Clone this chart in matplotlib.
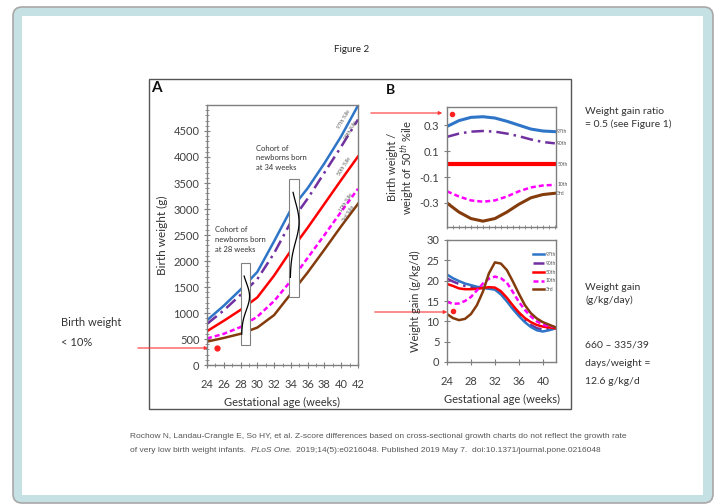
import numpy as np
import matplotlib
matplotlib.use("Agg")
import matplotlib.pyplot as plt
from matplotlib.patches import FancyBboxPatch, Rectangle
from matplotlib.ticker import MultipleLocator

plt.rcParams['font.family'] = ['Lato', 'DejaVu Sans']

# ---- data ----
# panel A: birth weight percentiles (g)
weeks_a = [24, 26, 28, 30, 32, 34, 36, 38, 40, 42]
bw_p97 = [860, 1140, 1450, 1790, 2380, 2990, 3400, 3880, 4400, 4990]
bw_p90 = [790, 1050, 1350, 1650, 2150, 2750, 3200, 3700, 4200, 4720]
bw_p50 = [650, 850, 1060, 1300, 1720, 2200, 2640, 3100, 3560, 4010]
bw_p10 = [510, 600, 730, 930, 1230, 1620, 2060, 2500, 2950, 3390]
bw_p3 = [450, 520, 600, 720, 960, 1370, 1780, 2220, 2670, 3100]

# cohorts drawn as boxes: box left/right, box bottom/top, mean, sd of weights
cohort_x = [(28.0, 29.1), (33.8, 35.0)]
cohort_y = [(385, 1960), (1300, 3570)]
cohort_mean = [1320, 2750]
cohort_sd = [260, 380]

# panel B top: ratio vs 50th percentile
weeks_b = [24, 26, 28, 30, 32, 34, 36, 38, 40, 42]
ratio_p97 = [0.29, 0.335, 0.36, 0.365, 0.355, 0.33, 0.30, 0.27, 0.255, 0.25]
ratio_p90 = [0.21, 0.235, 0.25, 0.255, 0.25, 0.235, 0.215, 0.19, 0.17, 0.16]
ratio_p50 = [0, 0, 0, 0, 0, 0, 0, 0, 0, 0]
ratio_p10 = [-0.21, -0.25, -0.28, -0.29, -0.28, -0.25, -0.21, -0.18, -0.165, -0.16]
ratio_p3 = [-0.30, -0.37, -0.42, -0.44, -0.42, -0.37, -0.31, -0.26, -0.235, -0.225]

# panel B bottom: weight gain (g/kg/d)
weeks_g = list(range(24, 43))
gain_p97 = [21.5, 20.6, 19.9, 19.3, 18.9, 18.5, 18.2, 18.0, 17.8, 16.6, 14.9,
            13.0, 11.3, 9.8, 8.6, 7.8, 7.5, 7.8, 8.2]
gain_p90 = [20.5, 19.8, 19.2, 18.7, 18.5, 18.3, 18.2, 18.2, 18.0, 17.0, 15.3,
            13.4, 11.7, 10.2, 9.1, 8.3, 8.0, 8.1, 8.3]
gain_p50 = [19.2, 18.7, 18.1, 17.9, 17.9, 18.0, 18.2, 18.4, 18.3, 17.4, 15.8,
            13.9, 12.2, 10.8, 9.8, 9.1, 8.7, 8.5, 8.3]
gain_p10 = [14.8, 14.3, 14.4, 15.0, 16.0, 17.6, 19.3, 20.5, 21.0, 20.6, 19.5,
            17.2, 14.8, 12.8, 11.2, 10.0, 9.2, 8.8, 8.6]
gain_p3 = [11.8, 10.8, 10.3, 10.6, 11.8, 14.0, 17.3, 21.8, 24.5, 24.2, 22.6,
           19.8, 16.8, 14.0, 12.0, 10.7, 9.8, 9.2, 8.6]

pct_labels = ['97th', '90th', '50th', '10th', '3rd']

# individual infant example
dot_a = (25.2, 330)
dot_b1 = (24.8, 0.385)
dot_b2 = (25.0, 12.5)

# ---- styles ----
colors = ['#2e75c8', '#7030a0', '#ff0000', '#ff00ff', '#843c0c']
styles = ['-', (0, (5, 2, 1, 2)), '-', (0, (2, 1.2)), '-']
tick_col = '#404040'
text_col = '#333333'
cite_col = '#555555'

W, H = 717, 504
fig = plt.figure(figsize=(W / 100, H / 100), dpi=100)


def px(l, t, r, b):
    return [l / W, 1 - b / H, (r - l) / W, (b - t) / H]


# background card
bg = fig.add_axes([0, 0, 1, 1], zorder=-1)
bg.set_xlim(0, W)
bg.set_ylim(H, 0)
bg.axis('off')
bg.add_patch(FancyBboxPatch((13, 7), 700, 496, boxstyle='round,pad=0,rounding_size=9',
                            fc='#c6e1e4', ec='#a8a8a8', lw=1.2))
bg.add_patch(Rectangle((22, 16), 681, 479, fc='white', ec='none'))
bg.add_patch(Rectangle((149, 79), 422, 330, fc='none', ec='#555555', lw=1))

bg.text(352, 50, 'Figure 2', ha='center', va='center', fontsize=7, color='#222222')
bg.text(151, 88, 'A', ha='left', va='center', fontsize=11, fontweight='bold', color='#111111')
bg.text(386, 90, 'B', ha='left', va='center', fontsize=10, fontweight='bold', color='#111111')

bg.text(61, 323, 'Birth weight', ha='left', va='center', fontsize=8, color=text_col)
bg.text(61, 343, '< 10%', ha='left', va='center', fontsize=8, color=text_col)
bg.text(585, 112, 'Weight gain ratio', ha='left', va='center', fontsize=7.5, color=text_col)
bg.text(585, 124, '= 0.5 (see Figure 1)', ha='left', va='center', fontsize=7.5, color=text_col)
bg.text(585, 287, 'Weight gain', ha='left', va='center', fontsize=7.5, color=text_col)
bg.text(585, 300, '(g/kg/day)', ha='left', va='center', fontsize=7.5, color=text_col)
bg.text(585, 345, '660 \u2013 335/39', ha='left', va='center', fontsize=7.5, color=text_col)
bg.text(585, 363, 'days/weight =', ha='left', va='center', fontsize=7.5, color=text_col)
bg.text(585, 382, '12.6 g/kg/d', ha='left', va='center', fontsize=7.5, color=text_col)

cite = dict(fontsize=6.0, color=cite_col, family='Liberation Sans', va='center')
bg.text(130, 437, 'Rochow N, Landau-Crangle E, So HY, et al. Z-score differences based on '
        'cross-sectional growth charts do not reflect the growth rate', ha='left', **cite)
t1 = bg.text(130, 450, 'of very low birth weight infants.  ', ha='left', **cite)
t2 = bg.annotate('PLoS One', xy=(1, 0.5), xycoords=t1, ha='left', style='italic', **cite)
bg.annotate('.  2019;14(5):e0216048. Published 2019 May 7.  doi:10.1371/journal.pone.0216048',
            xy=(1, 0.5), xycoords=t2, ha='left', **cite)

# red arrows to the example infant
arr = dict(arrowstyle='-|>', color='#ff3333', lw=0.8, mutation_scale=5)
bg.annotate('', xy=(211, 348), xytext=(135, 348), arrowprops=arr)
bg.annotate('', xy=(445, 113), xytext=(368, 113), arrowprops=arr)
bg.annotate('', xy=(450, 312), xytext=(372, 312), arrowprops=arr)


def frame(ax):
    ax.set_facecolor('none')
    for s in ax.spines.values():
        s.set_color('#7f7f7f')
        s.set_linewidth(1)
    ax.tick_params(colors='#7f7f7f', labelcolor=tick_col, labelsize=8, direction='inout',
                   length=4, width=0.8)
    ax.tick_params(which='minor', colors='#7f7f7f', direction='inout', length=2.5, width=0.6)
    ax.tick_params(axis='x', pad=8)


# ---- panel A ----
axA = fig.add_axes(px(207, 105, 358, 365))
frame(axA)
for vals, c, ls in zip([bw_p97, bw_p90, bw_p50, bw_p10, bw_p3], colors, styles):
    axA.plot(weeks_a, vals, color=c, ls=ls, lw=1.8, zorder=2)
for (x0, x1), (y0, y1), m, sd in zip(cohort_x, cohort_y, cohort_mean, cohort_sd):
    axA.add_patch(Rectangle((x0, y0), x1 - x0, y1 - y0, fc='white', ec='#808080',
                            lw=0.8, zorder=3))
    yy = np.linspace(m - 2.8 * sd, m + 1.5 * sd, 80)
    xx = x0 + 0.12 + (x1 - x0 - 0.15) * np.exp(-0.5 * ((yy - m) / sd) ** 2)
    axA.plot(xx, yy, color='black', lw=0.9, zorder=4)
axA.text(25.0, 2670, 'Cohort of\nnewborns born\nat 28 weeks', fontsize=5.5, color=text_col,
         va='top', ha='left', linespacing=1.45)
axA.text(29.9, 4240, 'Cohort of\nnewborns born\nat 34 weeks', fontsize=5.5, color=text_col,
         va='top', ha='left', linespacing=1.45)
for lab, (x, y), rot in zip(pct_labels,
                             [(40.3, 4720), (41.2, 4520), (40.4, 3820), (40.6, 3130), (40.9, 2910)],
                             [60, 60, 58, 58, 58]):
    axA.text(x, y, lab + ' %ile', fontsize=3.6, color='#555555', rotation=rot,
             ha='center', va='center')
axA.plot(*dot_a, 'o', color='#ff2020', ms=3.5, zorder=5, clip_on=False)
axA.set_xlim(24, 42)
axA.set_ylim(0, 5000)
axA.set_xticks(range(24, 43, 2))
axA.xaxis.set_minor_locator(MultipleLocator(1))
axA.set_yticks(range(0, 5000, 500))
axA.yaxis.set_minor_locator(MultipleLocator(100))
axA.set_xlabel('Gestational age (weeks)', fontsize=8, color=text_col, labelpad=5)
axA.set_ylabel('Birth weight (g)', fontsize=8.5, color=text_col, labelpad=4)

# ---- panel B top ----
axB1 = fig.add_axes(px(447, 107, 556, 227))
frame(axB1)
for vals, c, ls, lw in zip([ratio_p97, ratio_p90, ratio_p50, ratio_p10, ratio_p3], colors,
                           styles, [2.2, 1.8, 3, 1.8, 2.2]):
    axB1.plot(weeks_b, vals, color=c, ls=ls, lw=lw)
for lab, vals in zip(pct_labels, [ratio_p97, ratio_p90, ratio_p50, ratio_p10, ratio_p3]):
    axB1.text(42.4, vals[-1], lab, fontsize=3.6, color='#555555', va='center', ha='left')
axB1.plot(*dot_b1, 'o', color='#ff2020', ms=3, zorder=5)
axB1.set_xlim(24, 42.2)
axB1.set_ylim(-0.485, 0.44)
axB1.set_yticks([0.3, 0.1, -0.1, -0.3])
axB1.set_yticklabels(['0.3', '0.1', '-0.1', '-0.3'])
axB1.set_xticks([])
axB1.xaxis.set_minor_locator(MultipleLocator(1))
axB1.set_ylabel('Birth weight /\nweight of 50$^{th}$ %ile', fontsize=8, color=text_col,
                labelpad=2, linespacing=1.0)

# ---- panel B bottom ----
axB2 = fig.add_axes(px(447, 240, 556, 362))
frame(axB2)
order = [1, 0, 2, 3, 4]
series_g = [gain_p97, gain_p90, gain_p50, gain_p10, gain_p3]
handles = [None] * 5
for i in order:
    handles[i], = axB2.plot(weeks_g, series_g[i], color=colors[i], ls=styles[i], lw=1.8,
                            label=pct_labels[i])
axB2.plot(*dot_b2, 'o', color='#ff2020', ms=3, zorder=5)
leg = axB2.legend(handles=handles, loc='upper right', bbox_to_anchor=(1.0, 0.9), fontsize=3.6,
                  frameon=False, handlelength=2.2, handletextpad=0.3, labelspacing=0.75,
                  borderpad=0, borderaxespad=0)
for txt in leg.get_texts():
    txt.set_color('#555555')
axB2.set_xlim(24, 42.2)
axB2.set_ylim(0, 30)
axB2.set_xticks([24, 28, 32, 36, 40])
axB2.set_yticks(range(0, 31, 5))
axB2.set_xlabel('Gestational age (weeks)', fontsize=8, color=text_col, labelpad=5)
axB2.set_ylabel('Weight gain (g/kg/d)', fontsize=8, color=text_col, labelpad=4)

fig.savefig('out.png', dpi=100)
